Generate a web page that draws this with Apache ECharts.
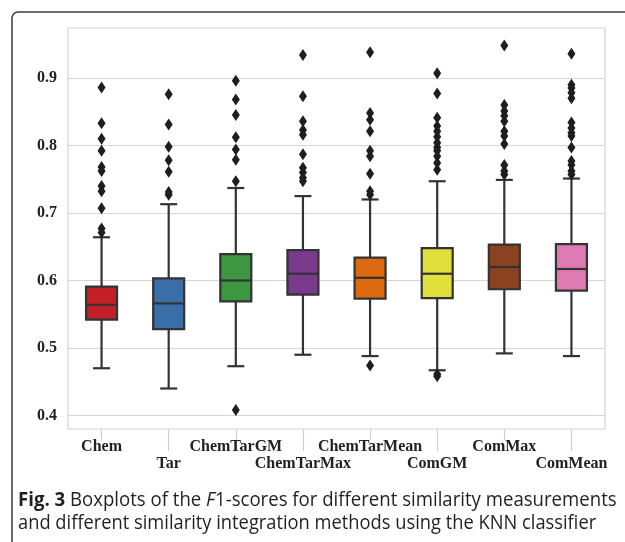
<!DOCTYPE html>
<html>
<head>
<meta charset="utf-8">
<script src="https://cdn.jsdelivr.net/npm/echarts@6/dist/echarts.min.js"></script>
<style>
  html, body { margin: 0; padding: 0; background: #fff; }
  #chart1 { width: 625px; height: 542px; }
</style>
</head>
<body>
<div id="chart1"></div>
<script>
// methods on the x axis
var methods = ['Chem', 'Tar', 'ChemTarGM', 'ChemTarMax', 'ChemTarMean', 'ComGM', 'ComMax', 'ComMean'];
var boxColors = ['#c41f26', '#3a6ea8', '#3d9640', '#7a3a8c', '#dd6a10', '#e0e03c', '#8a4220', '#e07ab2'];

// lower whisker, Q1, median, Q3, upper whisker
var lowWhisker = [0.470, 0.440, 0.473, 0.490, 0.488, 0.467, 0.492, 0.488];
var q1Values   = [0.542, 0.528, 0.569, 0.579, 0.573, 0.574, 0.587, 0.585];
var medians    = [0.564, 0.566, 0.600, 0.610, 0.604, 0.610, 0.620, 0.617];
var q3Values   = [0.591, 0.603, 0.639, 0.645, 0.634, 0.648, 0.653, 0.654];
var upWhisker  = [0.664, 0.713, 0.737, 0.725, 0.720, 0.747, 0.749, 0.751];

// outliers per method
var outChem        = [0.886, 0.833, 0.810, 0.792, 0.768, 0.762, 0.740, 0.732, 0.707, 0.677, 0.671];
var outTar         = [0.876, 0.831, 0.798, 0.778, 0.761, 0.731, 0.727];
var outChemTarGM   = [0.896, 0.868, 0.845, 0.812, 0.794, 0.779, 0.747, 0.408];
var outChemTarMax  = [0.934, 0.873, 0.836, 0.823, 0.816, 0.787, 0.767, 0.760, 0.752, 0.747];
var outChemTarMean = [0.938, 0.848, 0.838, 0.821, 0.792, 0.784, 0.758, 0.732, 0.727, 0.474];
var outComGM       = [0.907, 0.877, 0.841, 0.829, 0.821, 0.813, 0.804, 0.797, 0.792, 0.784, 0.774, 0.764, 0.461, 0.458];
var outComMax      = [0.948, 0.860, 0.851, 0.844, 0.836, 0.821, 0.814, 0.802, 0.771, 0.762, 0.757];
var outComMean     = [0.936, 0.890, 0.885, 0.878, 0.870, 0.834, 0.826, 0.819, 0.814, 0.797, 0.777, 0.771, 0.762, 0.757];
var outliers = [outChem, outTar, outChemTarGM, outChemTarMax, outChemTarMean, outComGM, outComMax, outComMean];

var yTicks = [0.4, 0.5, 0.6, 0.7, 0.8, 0.9];

var serif = '"Liberation Serif", "Times New Roman", serif';

var boxData = [];
for (var i = 0; i < methods.length; i++) {
  boxData.push({
    value: [i, lowWhisker[i], q1Values[i], medians[i], q3Values[i], upWhisker[i]],
    itemStyle: { color: boxColors[i] }
  });
}
var outData = [];
for (var k = 0; k < outliers.length; k++) {
  for (var j = 0; j < outliers[k].length; j++) {
    outData.push([k, outliers[k][j]]);
  }
}

function renderBox(params, api) {
  var idx = api.value(0);
  var pLow = api.coord([idx, api.value(1)]);
  var pQ1 = api.coord([idx, api.value(2)]);
  var pMed = api.coord([idx, api.value(3)]);
  var pQ3 = api.coord([idx, api.value(4)]);
  var pUp = api.coord([idx, api.value(5)]);
  var cx = pQ1[0];
  var hw = 15.5, cw = 8.5;
  var lineStyle = { stroke: '#333', lineWidth: 2.2 };
  return {
    type: 'group',
    children: [
      { type: 'line', shape: { x1: cx, y1: pQ3[1], x2: cx, y2: pUp[1] }, style: lineStyle },
      { type: 'line', shape: { x1: cx, y1: pQ1[1], x2: cx, y2: pLow[1] }, style: lineStyle },
      { type: 'line', shape: { x1: cx - cw, y1: pUp[1], x2: cx + cw, y2: pUp[1] }, style: lineStyle },
      { type: 'line', shape: { x1: cx - cw, y1: pLow[1], x2: cx + cw, y2: pLow[1] }, style: lineStyle },
      { type: 'rect', shape: { x: cx - hw, y: pQ3[1], width: hw * 2, height: pQ1[1] - pQ3[1] },
        style: { fill: api.visual('color'), stroke: '#333', lineWidth: 2.2 } },
      { type: 'line', shape: { x1: cx - hw, y1: pMed[1], x2: cx + hw, y2: pMed[1] }, style: lineStyle }
    ]
  };
}

var Chart1 = echarts.init(document.getElementById('chart1'));
var option1 = {
  backgroundColor: '#fff',
  animation: false,
  grid: {
    left: 68, top: 28, right: 20, bottom: 113,
    show: true, borderColor: '#d4d4d4', borderWidth: 1.2
  },
  xAxis: [
    {
      type: 'category',
      data: methods,
      axisLine: { show: false },
      axisTick: {
        show: true, alignWithLabel: true, length: 11,
        interval: function (index) { return index % 2 === 0; },
        lineStyle: { color: '#cfcfcf', width: 1.2 }
      },
      axisLabel: {
        interval: 0, margin: 9,
        fontFamily: serif, fontWeight: 'bold', fontSize: 16, color: '#222', lineHeight: 17,
        formatter: function (val, index) { return index % 2 === 1 ? '\n' + val : val; }
      },
      splitLine: { show: false }
    },
    {
      type: 'category',
      data: methods,
      position: 'bottom',
      axisLine: { show: false },
      axisTick: {
        show: true, alignWithLabel: true, length: 22,
        interval: function (index) { return index % 2 === 1; },
        lineStyle: { color: '#cfcfcf', width: 1.2 }
      },
      axisLabel: { show: false },
      splitLine: { show: false }
    }
  ],
  yAxis: {
    type: 'value',
    min: 0.38,
    max: 0.974,
    axisLine: { show: false },
    axisTick: { show: false, customValues: yTicks },
    axisLabel: {
      customValues: yTicks, margin: 11,
      fontFamily: serif, fontWeight: 'bold', fontSize: 16, color: '#222',
      formatter: function (v) { return v.toFixed(1); }
    },
    splitLine: { show: true, lineStyle: { color: '#d9d4d2', width: 1.2 } }
  },
  series: [
    {
      name: 'F1',
      type: 'custom',
      renderItem: renderBox,
      encode: { x: 0, y: [1, 2, 3, 4, 5] },
      data: boxData,
      z: 3
    },
    {
      name: 'outliers',
      type: 'scatter',
      symbol: 'diamond',
      symbolSize: [8, 12],
      itemStyle: { color: '#1e1e1e', opacity: 1 },
      data: outData,
      z: 4
    }
  ],
  graphic: [
    {
      type: 'rect',
      shape: { x: 12, y: 12, width: 800, height: 800, r: 6 },
      style: { fill: null, stroke: '#3a3a3a', lineWidth: 1.5 },
      z: -1
    },
    {
      type: 'text',
      x: 18, y: 500,
      scaleX: 0.93,
      style: {
        text: '{b|Fig. 3} Boxplots of the {i|F}1-scores for different similarity measurements',
        font: '20px "Open Sans", sans-serif',
        fill: '#231f20',
        verticalAlign: 'middle',
        rich: {
          b: { fontWeight: 'bold', fontSize: 20, fontFamily: '"Open Sans", sans-serif', fill: '#231f20' },
          i: { fontStyle: 'italic', fontSize: 20, fontFamily: '"Open Sans", sans-serif', fill: '#231f20' }
        }
      }
    },
    {
      type: 'text',
      x: 18, y: 523,
      scaleX: 0.915,
      style: {
        text: 'and different similarity integration methods using the KNN classifier',
        font: '20px "Open Sans", sans-serif',
        fill: '#231f20',
        verticalAlign: 'middle'
      }
    }
  ]
};
Chart1.setOption(option1);

window.onresize = function () {
  Chart1.resize();
};
</script>
</body>
</html>
